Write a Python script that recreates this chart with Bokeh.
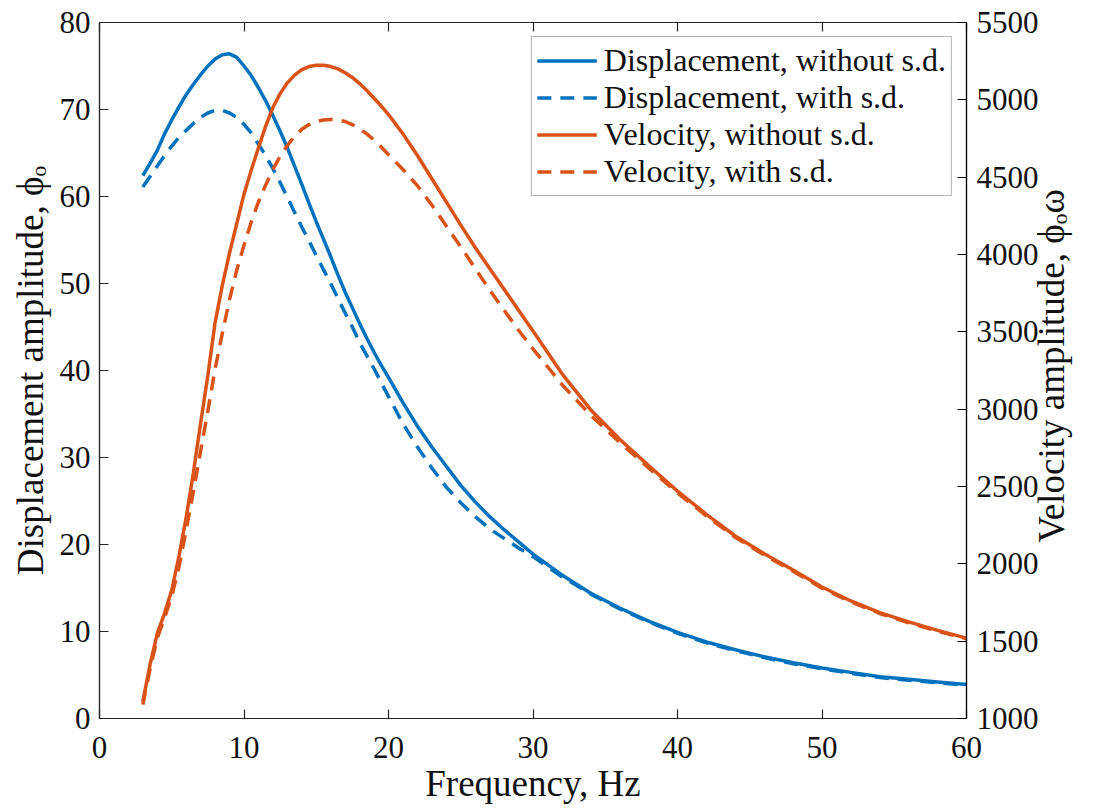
from math import pi
from bokeh.plotting import figure
from bokeh.models import Range1d, LinearAxis, FixedTicker, Legend, LegendItem
from bokeh.embed import file_html
from bokeh.resources import INLINE

# ---- data ----
freq = [3, 3.5, 4, 4.5, 5, 5.5, 6, 6.5, 7, 7.5, 8, 8.5, 9, 9.5, 10, 10.5, 11, 11.5, 12, 12.5,
        13, 13.5, 14, 14.5, 15, 15.5, 16, 16.5, 17, 17.5, 18, 18.5, 19, 19.5, 20, 21, 22, 23,
        24, 25, 26, 27, 28, 29, 30, 32, 34, 36, 38, 40, 42, 44, 46, 48, 50, 52, 54, 56, 58, 60]
disp_without = [62.4, 63.8, 65.3, 67.2, 68.8, 70.3, 71.7, 72.9, 74.0, 75.0, 75.8, 76.3, 76.4, 76.0,
                75.0, 73.9, 72.5, 71.0, 69.3, 67.5, 65.6, 63.5, 61.4, 59.2, 57.1, 55.1, 53.1,
                51.0, 49.0, 47.2, 45.4, 43.7, 42.1, 40.6, 39.2, 36.3, 33.6, 31.2, 29.0, 26.8,
                24.9, 23.2, 21.7, 20.3, 18.9, 16.5, 14.4, 12.7, 11.2, 9.9, 8.8, 7.9, 7.1, 6.4,
                5.8, 5.3, 4.8, 4.5, 4.2, 3.9]
disp_with = [61.1, 62.3, 63.5, 64.7, 65.8, 66.8, 67.6, 68.4, 69.1, 69.6, 69.9, 69.9, 69.6, 69.1,
             68.3, 67.3, 66.0, 64.7, 63.2, 61.6, 59.9, 58.2, 56.5, 54.9, 53.2, 51.6, 50.0,
             48.3, 46.6, 45.0, 43.2, 41.7, 40.2, 38.6, 37.0, 33.9, 31.2, 28.8, 26.6, 24.8,
             23.2, 21.8, 20.7, 19.6, 18.6, 16.3, 14.3, 12.6, 11.1, 9.8, 8.7, 7.8, 7.0, 6.3,
             5.7, 5.2, 4.7, 4.4, 4.1, 3.8]
vel_without = [1110, 1350, 1550, 1680, 1830, 2050, 2300, 2590, 2910, 3220, 3560, 3800, 4010, 4200,
               4390, 4545, 4690, 4830, 4950, 5040, 5110, 5160, 5195, 5215, 5224, 5224, 5215,
               5200, 5175, 5145, 5105, 5060, 5010, 4960, 4905, 4780, 4640, 4490, 4340, 4190,
               4045, 3910, 3775, 3640, 3505, 3230, 2995, 2805, 2635, 2470, 2320, 2180, 2065,
               1960, 1850, 1760, 1685, 1625, 1570, 1520]
vel_with = [1090, 1320, 1520, 1650, 1790, 1980, 2220, 2470, 2730, 2990, 3260, 3490, 3710, 3900,
            4060, 4210, 4340, 4450, 4550, 4635, 4705, 4765, 4810, 4840, 4860, 4870, 4873,
            4870, 4860, 4840, 4812, 4780, 4740, 4695, 4645, 4550, 4445, 4320, 4185, 4050,
            3910, 3770, 3640, 3510, 3390, 3160, 2960, 2785, 2620, 2458, 2310, 2172, 2057,
            1952, 1843, 1754, 1679, 1619, 1565, 1515]

x_ticks = [0, 10, 20, 30, 40, 50, 60]
disp_ticks = [0, 10, 20, 30, 40, 50, 60, 70, 80]
vel_ticks = [1000, 1500, 2000, 2500, 3000, 3500, 4000, 4500, 5000, 5500]

labels = ["Displacement, without s.d.", "Displacement, with s.d.",
          "Velocity, without s.d.", "Velocity, with s.d."]
x_label = "Frequency, Hz"
y_label = "Displacement amplitude, ϕₒ"
y2_label = "Velocity amplitude, ϕₒω"

# ---- styling ----
FONT = "Liberation Serif"
BLUE = "#0072BD"
ORANGE = "#D95319"
AX = "#262626"
W, H = 1095, 812
ML, MR, MT, MB = 99, 129, 22, 94

p = figure(width=W, height=H, output_backend="svg", toolbar_location=None,
           x_range=Range1d(0, 60), y_range=Range1d(0, 80),
           min_border_left=ML, min_border_right=MR, min_border_top=MT, min_border_bottom=MB)
p.extra_y_ranges = {"vel": Range1d(1000, 5500)}
p.xgrid.visible = False
p.ygrid.visible = False
p.outline_line_color = AX
p.outline_line_width = 1.2
p.background_fill_color = "white"
p.border_fill_color = "white"


def style_axis(ax, color, standoff):
    ax.axis_line_color = color
    ax.axis_line_width = 1.2
    ax.major_tick_line_color = color
    ax.major_tick_line_width = 1.2
    ax.major_tick_in = 9
    ax.major_tick_out = 0
    ax.minor_tick_line_color = None
    ax.major_label_text_font = FONT
    ax.major_label_text_font_size = "31px"
    ax.major_label_text_color = "#111111"
    ax.major_label_standoff = standoff
    ax.axis_label_text_font = FONT
    ax.axis_label_text_font_size = "37px"
    ax.axis_label_text_font_style = "normal"
    ax.axis_label_text_color = "#111111"


xa = p.xaxis[0]
xa.ticker = FixedTicker(ticks=x_ticks)
style_axis(xa, AX, 18)
xa.axis_label = x_label
xa.axis_label_standoff = 2

ya = p.yaxis[0]
ya.ticker = FixedTicker(ticks=disp_ticks)
style_axis(ya, AX, 9)
ya.axis_label = y_label
ya.axis_label_standoff = 6

ra = LinearAxis(y_range_name="vel", ticker=FixedTicker(ticks=vel_ticks))
style_axis(ra, "#000000", 10)
ra.axis_label_standoff = 10
props = ra.properties()
if "axis_label_orientation" in props and "axis_label_align" in props:
    # reads bottom-to-top; anchored at the axis start and shifted to the centre
    ra.axis_label_orientation = pi / 2
    ra.axis_label_align = "start"
    ra.axis_label = "\u00a0" * 19 + y2_label
else:
    ra.axis_label = y2_label
p.add_layout(ra, "right")

ta = LinearAxis(ticker=FixedTicker(ticks=x_ticks))
style_axis(ta, AX, 0)
ta.major_label_overrides = {t: "" for t in x_ticks}
p.add_layout(ta, "above")

r1 = p.line(freq, disp_without, line_color=BLUE, line_width=3.5)
r2 = p.line(freq, disp_with, line_color=BLUE, line_width=3.5, line_dash="14 9")
r3 = p.line(freq, vel_without, line_color=ORANGE, line_width=3.5, y_range_name="vel")
r4 = p.line(freq, vel_with, line_color=ORANGE, line_width=3.5, line_dash="14 9",
            y_range_name="vel")

legend = Legend(items=[LegendItem(label=labels[0], renderers=[r1]),
                       LegendItem(label=labels[1], renderers=[r2]),
                       LegendItem(label=labels[2], renderers=[r3]),
                       LegendItem(label=labels[3], renderers=[r4])],
                location="top_right")
legend.margin = 14
legend.padding = 5
legend.spacing = 0
legend.glyph_width = 60
legend.glyph_height = 35
legend.label_height = 35
legend.label_standoff = 7
legend.label_text_font = FONT
legend.label_text_font_size = "32px"
legend.label_text_color = "#111111"
legend.border_line_color = "#666666"
legend.border_line_width = 1.5
legend.background_fill_color = "white"
legend.background_fill_alpha = 1
p.add_layout(legend)

open("out.html", "w").write(file_html(p, INLINE))
